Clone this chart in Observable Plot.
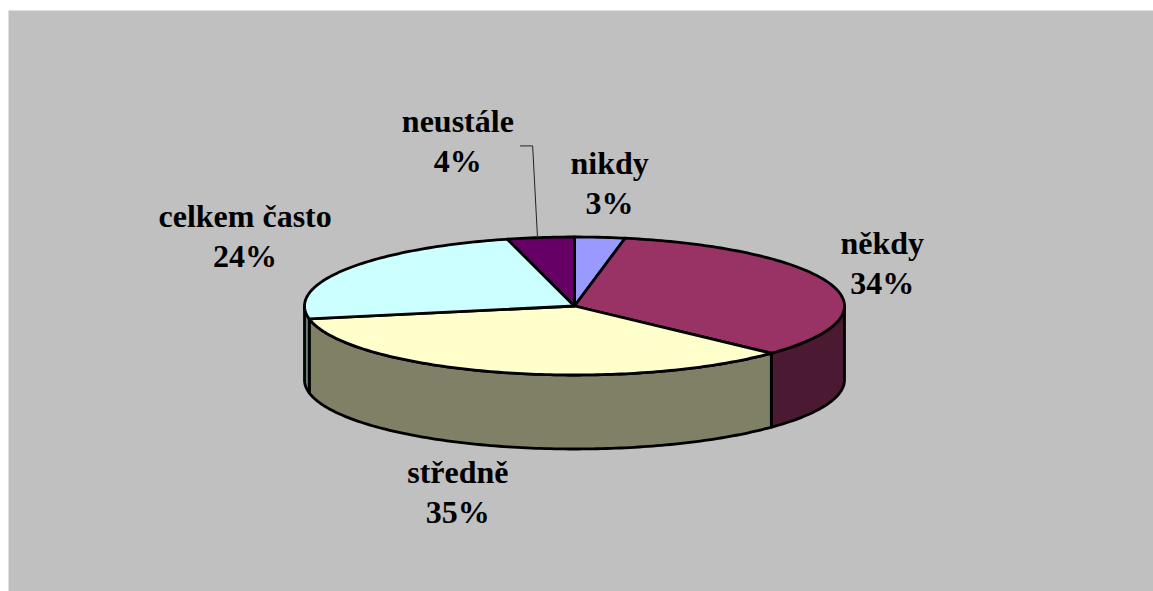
<!DOCTYPE html>
<html lang="cs">
<head>
<meta charset="utf-8">
<title>Jak často</title>
<script src="https://cdn.jsdelivr.net/npm/d3@7"></script>
<script src="https://cdn.jsdelivr.net/npm/@observablehq/plot@0.6"></script>
<style>
  html, body { margin: 0; padding: 0; background: #fff; }
  svg { display: block; }
</style>
</head>
<body>
<div id="chart"></div>
<script>
// Answers in clockwise order, starting from twelve o'clock.
const categories = ["nikdy", "někdy", "středně", "celkem často", "neustále"];
const shares = [3, 34, 35, 24, 4];
const topColors = ["#9999ff", "#993366", "#ffffcc", "#ccffff", "#660066"];
const sideColors = ["#4c4c80", "#4c1933", "#808066", "#668080", "#330033"];

// Pie layout: the top face is a unit circle squashed by the y scale;
// the wall hangs below it by `depth` units.
const width = 1153, height = 591;
const left = 8, top_ = 10;
const centerPx = [574, 305.5], radiusPx = [270, 69];
const depth = 74 / radiusPx[1];

// Label centres in pie units, one per category.
const labelX = [0.13, 1.14, -0.432, -1.22, -0.432];
const labelY = [1.815, 0.655, -2.67, 1.04, 2.415];

const rad = d => d * Math.PI / 180;
const bounds = d3.cumsum([0, ...shares]).map(v => v * 3.6);
const px = (deg, drop = 0) => ({x: Math.sin(rad(deg)), y: Math.cos(rad(deg)) - drop});
const arc = (a, b, drop = 0) => {
  const pts = d3.range(a, b, 1).map(d => px(d, drop));
  pts.push(px(b, drop));
  return pts;
};

// Each slice of the top face is a closed path through the pie's centre.
const tops = categories.flatMap((name, i) => {
  const path = [{x: 0, y: 0}, ...arc(bounds[i], bounds[i + 1]), {x: 0, y: 0}];
  return path.map(p => ({...p, name, color: topColors[i]}));
});

// Only the wall between 90° and 270° faces the viewer.
const walls = categories.flatMap((name, i) => {
  const a = Math.max(bounds[i], 90), b = Math.min(bounds[i + 1], 270);
  if (a >= b) return [];
  const upper = arc(a, b);
  const lower = arc(a, b, depth).reverse();
  return [...upper, ...lower, upper[0]].map(p => ({...p, name, color: sideColors[i]}));
});

const labels = categories.map((name, i) => ({
  text: `${name}\n${shares[i]}%`, x: labelX[i], y: labelY[i]
}));

// Leader from the "neustále" label down to its slice rim.
const leader = [
  {x: -0.2, y: 2.32},
  {x: -0.155, y: 2.32},
  {x: -0.137, y: 0.99}
];

const chart = Plot.plot({
  width, height,
  marginLeft: left, marginTop: top_, marginRight: 0, marginBottom: 0,
  style: {background: "transparent"},
  x: {domain: [(left - centerPx[0]) / radiusPx[0], (width - centerPx[0]) / radiusPx[0]], axis: null},
  y: {domain: [(centerPx[1] - height) / radiusPx[1], (centerPx[1] - top_) / radiusPx[1]], axis: null},
  marks: [
    Plot.frame({fill: "#c0c0c0", stroke: "none"}),
    Plot.line(walls, {x: "x", y: "y", z: "name", fill: "color", stroke: "#000", strokeWidth: 2.8, curve: "linear"}),
    Plot.line(tops, {x: "x", y: "y", z: "name", fill: "color", stroke: "#000", strokeWidth: 2.8, curve: "linear"}),
    Plot.line(leader, {x: "x", y: "y", stroke: "#222", strokeWidth: 1, curve: "linear"}),
    Plot.text(labels, {
      x: "x", y: "y", text: "text",
      fontFamily: "Liberation Serif", fontWeight: "bold", fontSize: 32,
      lineHeight: 1.25, fill: "#000", textAnchor: "middle"
    })
  ]
});
document.getElementById("chart").append(chart);
</script>
</body>
</html>
